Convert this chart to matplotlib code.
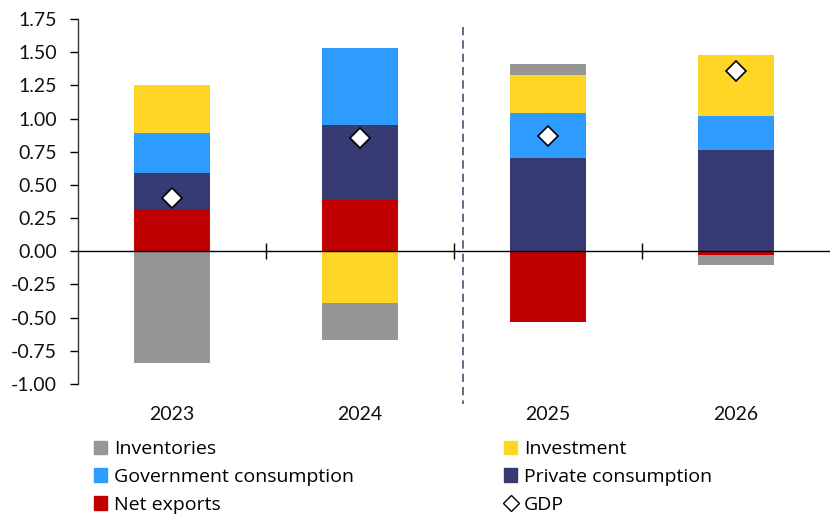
import numpy as np
import matplotlib
matplotlib.use("Agg")
import matplotlib.pyplot as plt
from matplotlib.lines import Line2D
from matplotlib.patches import Patch

plt.rcParams['font.family'] = ['Lato', 'DejaVu Sans']

# ---------- data ----------
years = ["2023", "2024", "2025", "2026"]
net_exports = [0.32, 0.39, -0.53, -0.03]
private_cons = [0.27, 0.56, 0.70, 0.76]
gov_cons = [0.30, 0.58, 0.34, 0.26]
investment = [0.36, -0.39, 0.29, 0.46]
inventories = [-0.84, -0.28, 0.08, -0.07]
gdp = [0.40, 0.85, 0.87, 1.36]

# stacking order (bottom to top on each side of zero)
series = [
    ("Net exports", net_exports, "#C00000"),
    ("Private consumption", private_cons, "#363B74"),
    ("Government consumption", gov_cons, "#2E9BFF"),
    ("Investment", investment, "#FFD526"),
    ("Inventories", inventories, "#969696"),
]
colors = {name: col for name, vals, col in series}

fig = plt.figure(figsize=(8.3, 5.16), dpi=100)
ax = fig.add_axes([0.094, 0.256, 0.906, 0.707])

x = np.arange(len(years))
pos_base = np.zeros(len(years))
neg_base = np.zeros(len(years))
for name, vals, col in series:
    vals = np.array(vals)
    bottoms = np.where(vals >= 0, pos_base, neg_base)
    ax.bar(x, vals, width=0.4, bottom=bottoms, color=col, zorder=2)
    pos_base = pos_base + np.where(vals >= 0, vals, 0)
    neg_base = neg_base + np.where(vals < 0, vals, 0)

ax.plot(x, gdp, linestyle="none", marker="D", markersize=10,
        markerfacecolor="white", markeredgecolor="black", markeredgewidth=1.2, zorder=4)

# zero line and category separators
ax.axhline(0, color="black", linewidth=1.0, zorder=3)
seps = [0.5, 1.5, 2.5]
ax.plot(seps, [0] * len(seps), linestyle="none", marker="|", markersize=12,
        color="black", markeredgewidth=1.0, zorder=3)

# forecast divider
ax.plot([1.55, 1.55], [1.69, -1.15], linestyle=(0, (5, 3)), color="#4A4F70",
        linewidth=1.2, clip_on=False, zorder=3)

ax.set_xlim(-0.5, 3.5)
ax.set_ylim(-1.0, 1.75)
ax.set_yticks(np.arange(-1.0, 1.76, 0.25))
ax.set_yticklabels([f"{v:.2f}" for v in np.arange(-1.0, 1.76, 0.25)])
ax.set_xticks(x)
ax.set_xticklabels(years)
ax.tick_params(axis="x", length=0, pad=16, labelsize=14, labelcolor="#111111")
ax.tick_params(axis="y", length=6, width=1, pad=9, labelsize=14, labelcolor="#111111",
               direction="out")

for s in ["top", "right", "bottom"]:
    ax.spines[s].set_visible(False)
ax.spines["left"].set_linewidth(1.0)
ax.spines["left"].set_color("#333333")

# ---------- legend (two columns) ----------
left_handles = [
    Patch(color=colors["Inventories"], label="Inventories"),
    Patch(color=colors["Government consumption"], label="Government consumption"),
    Patch(color=colors["Net exports"], label="Net exports"),
]
right_handles = [
    Patch(color=colors["Investment"], label="Investment"),
    Patch(color=colors["Private consumption"], label="Private consumption"),
    Line2D([], [], linestyle="none", marker="D", markersize=8,
           markerfacecolor="white", markeredgecolor="black", label="GDP"),
]
leg_kw = dict(loc="upper left", frameon=False, handlelength=0.7, handleheight=0.7,
              handletextpad=0.35, labelspacing=0.5, borderaxespad=0, borderpad=0,
              prop={"family": ["Open Sans", "DejaVu Sans"], "size": 14})
fig.legend(handles=left_handles, bbox_to_anchor=(0.113, 0.147), **leg_kw)
fig.legend(handles=right_handles, bbox_to_anchor=(0.607, 0.147), **leg_kw)

fig.savefig("out.png", dpi=100)
